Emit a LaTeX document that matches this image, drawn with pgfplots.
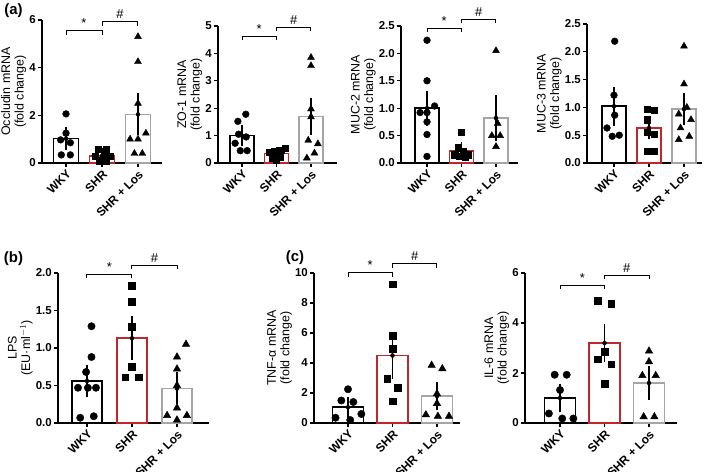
\documentclass[border=0pt]{standalone}
\usepackage{pgfplots}
\pgfplotsset{compat=1.18}
\usepackage{fontspec}
\setmainfont{Liberation Sans}
\definecolor{shrred}{RGB}{192,38,44}
\definecolor{losgray}{RGB}{165,165,165}
\newcommand{\B}[1]{\textbf{#1}}
\tikzset{signode/.style={font=\fontsize{13}{13}\selectfont, anchor=base, yshift=3bp, inner sep=0pt}}
\pgfplotsset{
  panel/.style={
    scale only axis, anchor=south west,
    axis lines*=left,
    axis line style={line width=1.3bp},
    tick style={black, line width=1.2bp},
    major tick length=4bp,
    tick align=outside,
    xtick={0,1,2}, xticklabels={WKY,SHR,SHR + Los},
    xticklabel style={rotate=45, anchor=north east, font=\fontsize{12}{12}\selectfont\bfseries, inner sep=1.5bp},
    yticklabel style={font=\fontsize{11.5}{12}\selectfont\bfseries, inner sep=2bp},
    ylabel style={align=center, font=\fontsize{12.5}{13.5}\selectfont, inner sep=1bp},
    ymin=0, enlargelimits=false, clip=false,
  },
  bwky/.style={ybar, bar shift=0pt, fill=white, draw=black, line width=1.6bp},
  bshr/.style={ybar, bar shift=0pt, fill=white, draw=shrred, line width=1.6bp},
  blos/.style={ybar, bar shift=0pt, fill=white, draw=losgray, line width=1.6bp},
  pc/.style={only marks, mark=*, mark size=3.4bp, black},
  ps/.style={only marks, mark=square*, mark size=3.1bp, black},
  pt/.style={only marks, mark=triangle*, mark size=4bp, black},
  err/.style={only marks, mark=none, black, error bars/.cd, y dir=both, y explicit, error bar style={line width=1.4bp}, error mark options={line width=1.4bp, mark size=5.5bp}},
  sig/.style={black, line width=1bp, mark=none},
}
\begin{document}
\begin{tikzpicture}
\useasboundingbox (0,0) rectangle (709bp,472bp);
\node[font=\fontsize{15}{15}\selectfont\bfseries] at (13.5bp,461bp) {(a)};
\node[font=\fontsize{15}{15}\selectfont\bfseries] at (13.5bp,213bp) {(b)};
\node[font=\fontsize{15}{15}\selectfont\bfseries] at (295bp,214bp) {(c)};

% Occludin
\begin{axis}[panel, at={(42bp,309bp)}, width=120bp, height=143bp, xmin=-0.667, xmax=2.667, ymax=6, ytick={0,2,4,6}, yticklabels={\B{0},\B{2},\B{4},\B{6}}, bar width=25bp, ylabel={Occludin mRNA\\(fold change)}]
\addplot[bwky] coordinates {(0,1.02)};
\addplot[bshr] coordinates {(1,0.30)};
\addplot[blos] coordinates {(2,2.04)};
\addplot[pc] coordinates {(0,2.06) (0,1.25) (-0.15,0.97) (0.12,0.85) (-0.13,0.34) (0.12,0.34)};
\addplot[ps] coordinates {(0.9,0.58) (1.12,0.58) (0.8,0.3) (1.05,0.32) (1.22,0.28) (0.92,0.1) (1.12,0.1)};
\addplot[pt] coordinates {(2,5.3) (2,4.25) (2,2.5) (1.78,1.0) (2,1.0) (2.22,1.25) (1.9,0.4) (2.12,0.4)};
\addplot[err] coordinates {(0,1.02) +- (0,0.25) (1,0.30) +- (0,0.08) (2,2.04) +- (0,0.65)};
\addplot[sig] coordinates {(0,5.37) (0,5.54) (1,5.54) (1,5.37)};
\addplot[sig] coordinates {(1,5.75) (1,5.92) (2,5.92) (2,5.75)};
\node[signode] at (axis cs:0.5,5.54) {*};
\node[signode] at (axis cs:1.5,5.92) {\#};
\end{axis}

% ZO-1
\begin{axis}[panel, at={(218bp,309bp)}, width=119bp, height=137bp, xmin=-0.696, xmax=2.754, ymax=5, ytick={0,1,2,3,4,5}, yticklabels={\B{0},\B{1},\B{2},\B{3},\B{4},\B{5}}, bar width=24bp, ylabel={ZO-1 mRNA\\(fold change)}]
\addplot[bwky] coordinates {(0,1.0)};
\addplot[bshr] coordinates {(1,0.35)};
\addplot[blos] coordinates {(2,1.70)};
\addplot[pc] coordinates {(0.11,1.78) (-0.12,1.52) (-0.1,1.05) (0.12,0.95) (-0.2,0.72) (-0.05,0.45) (0.15,0.45)};
\addplot[ps] coordinates {(0.78,0.38) (0.95,0.42) (1.12,0.48) (1.25,0.55) (0.88,0.18) (1.1,0.2) (1,0.1)};
\addplot[pt] coordinates {(2,3.85) (2,3.55) (2,1.97) (2,1.68) (1.92,0.83) (2.2,0.7) (2.1,0.36) (1.88,0.18)};
\addplot[err] coordinates {(0,1.0) +- (0,0.19) (1,0.35) +- (0,0.05) (2,1.70) +- (0,0.48)};
\addplot[sig] coordinates {(0,4.48) (0,4.63) (1,4.63) (1,4.48)};
\addplot[sig] coordinates {(1,4.81) (1,4.96) (2,4.96) (2,4.81)};
\node[signode] at (axis cs:0.5,4.63) {*};
\node[signode] at (axis cs:1.5,4.96) {\#};
\end{axis}

% MUC-2
\begin{axis}[panel, at={(401bp,309bp)}, width=117bp, height=137bp, xmin=-0.754, xmax=2.638, ymax=2.5, ytick={0,0.5,1,1.5,2,2.5}, yticklabels={\B{0.0},\B{0.5},\B{1.0},\B{1.5},\B{2.0},\B{2.5}}, bar width=24bp, ylabel={MUC-2 mRNA\\(fold change)}]
\addplot[bwky] coordinates {(0,1.0)};
\addplot[bshr] coordinates {(1,0.22)};
\addplot[blos] coordinates {(2,0.82)};
\addplot[pc] coordinates {(0,2.24) (0,1.5) (0.22,1.04) (-0.2,0.92) (0,0.92) (0,0.75) (0,0.52) (0,0.12)};
\addplot[ps] coordinates {(1,0.56) (0.9,0.28) (1.05,0.22) (0.8,0.15) (1.18,0.15) (0.95,0.12) (1.1,0.1)};
\addplot[pt] coordinates {(2,2.05) (2.05,0.72) (1.88,0.5) (2.12,0.5) (2,0.3)};
\addplot[err] coordinates {(0,1.0) +- (0,0.22) (1,0.22) +- (0,0.06) (2,0.82) +- (0,0.32)};
\addplot[sig] coordinates {(0,2.39) (0,2.46) (1,2.46) (1,2.39)};
\addplot[sig] coordinates {(1,2.55) (1,2.62) (2,2.62) (2,2.55)};
\node[signode] at (axis cs:0.5,2.46) {*};
\node[signode] at (axis cs:1.5,2.62) {\#};
\end{axis}

% MUC-3
\begin{axis}[panel, at={(587bp,309bp)}, width=115bp, height=139bp, xmin=-0.771, xmax=2.514, ymax=2.5, ytick={0,0.5,1,1.5,2,2.5}, yticklabels={\B{0.0},\B{0.5},\B{1.0},\B{1.5},\B{2.0},\B{2.5}}, bar width=24bp, ylabel={MUC-3 mRNA\\(fold change)}]
\addplot[bwky] coordinates {(0,1.02)};
\addplot[bshr] coordinates {(1,0.63)};
\addplot[blos] coordinates {(2,0.97)};
\addplot[pc] coordinates {(0.02,2.19) (0,1.22) (0.02,0.86) (-0.2,0.63) (-0.05,0.48) (0.15,0.5)};
\addplot[ps] coordinates {(0.94,0.97) (1.14,0.95) (0.94,0.78) (0.94,0.55) (1.14,0.52) (0.94,0.21) (1.14,0.21)};
\addplot[pt] coordinates {(2,2.1) (2,1.42) (2.08,1.0) (1.85,0.88) (2.2,0.78) (1.9,0.63) (2.15,0.48) (1.85,0.42)};
\addplot[err] coordinates {(0,1.02) +- (0,0.25) (1,0.63) +- (0,0.1) (2,0.97) +- (0,0.19)};
\end{axis}

% LPS
\begin{axis}[panel, at={(58bp,49bp)}, width=151bp, height=150bp, xmin=-0.644, xmax=2.711, ymax=2, ytick={0,0.5,1,1.5,2}, yticklabels={\B{0.0},\B{0.5},\B{1.0},\B{1.5},\B{2.0}}, bar width=30bp, ylabel={LPS\\(EU·ml$^{-1}$)}]
\addplot[bwky] coordinates {(0,0.56)};
\addplot[bshr] coordinates {(1,1.13)};
\addplot[blos] coordinates {(2,0.46)};
\addplot[pc, mark size=3.7bp] coordinates {(0.1,1.29) (0.1,0.88) (-0.02,0.68) (-0.2,0.47) (0.02,0.47) (0.2,0.47) (-0.15,0.07) (0.15,0.09)};
\addplot[ps, mark size=3.4bp] coordinates {(1,1.83) (1,1.62) (1,1.28) (1,0.75) (0.85,0.61) (1.15,0.61)};
\addplot[pt, mark size=4.3bp] coordinates {(2.2,1.05) (2,0.88) (2,0.72) (2,0.5) (2,0.2) (1.78,0.1) (2.22,0.1) (2,0.04)};
\addplot[err] coordinates {(0,0.56) +- (0,0.14) (1,1.13) +- (0,0.22) (2,0.46) +- (0,0.14)};
\addplot[sig] coordinates {(0,1.93) (0,1.98) (1,1.98) (1,1.93)};
\addplot[sig] coordinates {(1,2.05) (1,2.1) (2,2.1) (2,2.05)};
\node[signode] at (axis cs:0.5,1.98) {*};
\node[signode] at (axis cs:1.5,2.1) {\#};
\end{axis}

% TNF-alpha
\begin{axis}[panel, at={(314bp,49bp)}, width=146bp, height=150bp, xmin=-0.764, xmax=2.517, ymax=10, ytick={0,2,4,6,8,10}, yticklabels={\B{0},\B{2},\B{4},\B{6},\B{8},\B{10}}, bar width=31bp, ylabel={TNF-α mRNA\\(fold change)}]
\addplot[bwky] coordinates {(0,1.05)};
\addplot[bshr] coordinates {(1,4.5)};
\addplot[blos] coordinates {(2,1.8)};
\addplot[pc, mark size=3.7bp] coordinates {(0,2.25) (-0.15,1.5) (0.12,1.4) (0.3,0.6) (-0.28,0.35) (0.05,0.2)};
\addplot[ps, mark size=3.4bp] coordinates {(1,9.25) (1,5.82) (1,4.97) (0.88,2.95) (1.12,2.33) (1,1.45)};
\addplot[pt, mark size=4.3bp] coordinates {(1.88,3.85) (2.12,3.62) (2,1.95) (2,1.3) (1.75,0.55) (2.02,0.45) (2.27,0.45)};
\addplot[err] coordinates {(0,1.05) +- (0,0.32) (1,4.5) +- (0,1.18) (2,1.8) +- (0,0.55)};
\addplot[sig] coordinates {(0,9.73) (0,10) (1,10) (1,9.73)};
\addplot[sig] coordinates {(1,10.33) (1,10.6) (2,10.6) (2,10.33)};
\node[signode] at (axis cs:0.5,10) {*};
\node[signode] at (axis cs:1.5,10.6) {\#};
\end{axis}

% IL-6
\begin{axis}[panel, at={(525bp,49bp)}, width=152bp, height=150bp, xmin=-0.787, xmax=2.629, ymax=6, ytick={0,2,4,6}, yticklabels={\B{0},\B{2},\B{4},\B{6}}, bar width=31bp, ylabel={IL-6 mRNA\\(fold change)}]
\addplot[bwky] coordinates {(0,1.0)};
\addplot[bshr] coordinates {(1,3.2)};
\addplot[blos] coordinates {(2,1.6)};
\addplot[pc, mark size=3.7bp] coordinates {(-0.12,1.93) (0.15,1.93) (0,1.32) (-0.25,0.38) (0.05,0.18) (0.3,0.18)};
\addplot[ps, mark size=3.4bp] coordinates {(0.85,4.9) (1.15,4.78) (1,2.85) (0.85,2.55) (1.15,2.35) (1,1.58)};
\addplot[pt, mark size=4.3bp] coordinates {(2,2.88) (2,2.45) (1.85,1.9) (2.15,1.9) (1.88,0.25) (2.12,0.25)};
\addplot[err] coordinates {(0,1.0) +- (0,0.35) (1,3.2) +- (0,0.55) (2,1.6) +- (0,0.45)};
\addplot[sig] coordinates {(0,5.36) (0,5.52) (1,5.52) (1,5.36)};
\addplot[sig] coordinates {(1,5.76) (1,5.92) (2,5.92) (2,5.76)};
\node[signode] at (axis cs:0.5,5.52) {*};
\node[signode] at (axis cs:1.5,5.92) {\#};
\end{axis}
\end{tikzpicture}
\end{document}
